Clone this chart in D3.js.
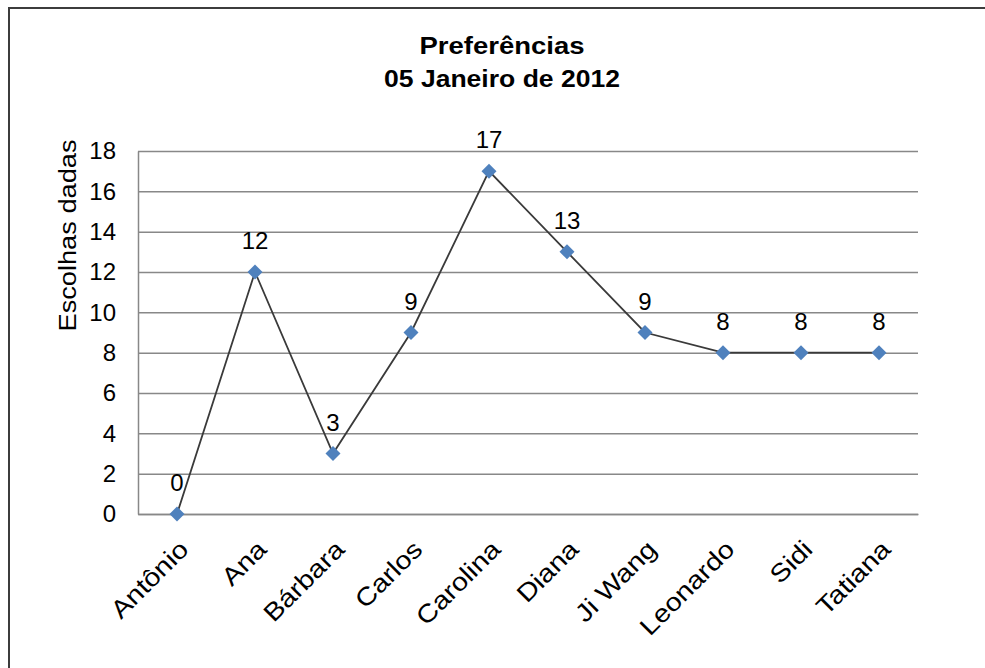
<!DOCTYPE html>
<html>
<head>
<meta charset="utf-8">
<script src="https://cdn.jsdelivr.net/npm/d3@7"></script>
<style>
  body { margin: 0; background: #fff; }
  text { font-family: "Liberation Sans", Arial, sans-serif; fill: #000; }
</style>
</head>
<body>
<div id="chart"></div>
<script>
// data
var nomes = ["Antônio", "Ana", "Bárbara", "Carlos", "Carolina", "Diana", "Ji Wang", "Leonardo", "Sidi", "Tatiana"];
var escolhas = [0, 12, 3, 9, 17, 13, 9, 8, 8, 8];
var yTicks = [0, 2, 4, 6, 8, 10, 12, 14, 16, 18];
var titulo = ["Preferências", "05 Janeiro de 2012"];
var yTitulo = "Escolhas dadas";

var width = 985, height = 668;
var margin = {top: 151, right: 67, bottom: 154, left: 138};
var plotW = width - margin.left - margin.right,
    plotH = height - margin.top - margin.bottom;

var svg = d3.select("#chart")
    .append("svg")
    .attr("width", width)
    .attr("height", height);

// outer frame of the chart
svg.append("rect")
    .attr("x", 9).attr("y", 8)
    .attr("width", 1000).attr("height", 700)
    .attr("fill", "none")
    .attr("stroke", "#3c3c3c")
    .attr("stroke-width", 2);

// title, two lines
svg.selectAll("text.titulo")
    .data(titulo)
    .enter()
    .append("text")
    .attr("class", "titulo")
    .attr("x", 502)
    .attr("y", function (d, i) { return 54 + i * 33; })
    .attr("text-anchor", "middle")
    .attr("textLength", function (d, i) { return i == 0 ? 165 : 236; })
    .attr("lengthAdjust", "spacingAndGlyphs")
    .style("font-weight", "bold")
    .style("font-size", "23px")
    .text(function (d) { return d; });

var g = svg.append("g")
    .attr("transform", "translate(" + margin.left + "," + margin.top + ")");

var x = d3.scaleBand()
    .domain(nomes)
    .range([0, plotW]);

var y = d3.scaleLinear()
    .domain([0, 18])
    .range([plotH, 0]);

// y axis with gridlines
var yAxis = g.append("g")
    .call(d3.axisLeft(y)
        .tickValues(yTicks)
        .tickSize(-plotW)
        .tickSizeOuter(0)
        .tickPadding(22));
yAxis.selectAll(".tick line")
    .attr("stroke", "#888")
    .attr("stroke-width", 1.5);
yAxis.select(".domain")
    .attr("stroke", "#888")
    .attr("stroke-width", 1.5);
yAxis.selectAll("text")
    .style("font-size", "24px")
    .attr("fill", "#000");

// x axis, rotated labels
var xAxis = g.append("g")
    .attr("transform", "translate(0," + plotH + ")")
    .call(d3.axisBottom(x).tickSize(0).tickSizeOuter(0));
xAxis.select(".domain")
    .attr("stroke", "#888")
    .attr("stroke-width", 1.5);
xAxis.selectAll("text")
    .attr("y", 0)
    .attr("dy", 0)
    .attr("text-anchor", "end")
    .attr("fill", "#000")
    .attr("transform", "translate(13,37) rotate(-45) scale(1.15,1)")
    .style("font-size", "25px");

// y axis title
svg.append("text")
    .attr("transform", "translate(76,235.5) rotate(-90)")
    .attr("text-anchor", "middle")
    .attr("textLength", 192)
    .attr("lengthAdjust", "spacingAndGlyphs")
    .style("font-size", "23px")
    .text(yTitulo);

var cx = function (d, i) { return x(nomes[i]) + x.bandwidth() / 2; };

// line
var line = d3.line()
    .x(function (d, i) { return cx(d, i); })
    .y(function (d) { return y(d); });

g.append("path")
    .datum(escolhas)
    .attr("d", line)
    .attr("fill", "none")
    .attr("stroke", "#3a3a3a")
    .attr("stroke-width", 1.8);

// diamond markers
g.selectAll("path.marker")
    .data(escolhas)
    .enter()
    .append("path")
    .attr("class", "marker")
    .attr("d", d3.symbol(d3.symbolSquare, 112))
    .attr("transform", function (d, i) { return "translate(" + cx(d, i) + "," + y(d) + ") rotate(45)"; })
    .attr("fill", "#4f81bd");

// data labels
g.selectAll("text.rotulo")
    .data(escolhas)
    .enter()
    .append("text")
    .attr("class", "rotulo")
    .attr("x", function (d, i) { return cx(d, i); })
    .attr("y", function (d) { return y(d) - 23; })
    .attr("text-anchor", "middle")
    .style("font-size", "24px")
    .text(function (d) { return d; });
</script>
</body>
</html>
